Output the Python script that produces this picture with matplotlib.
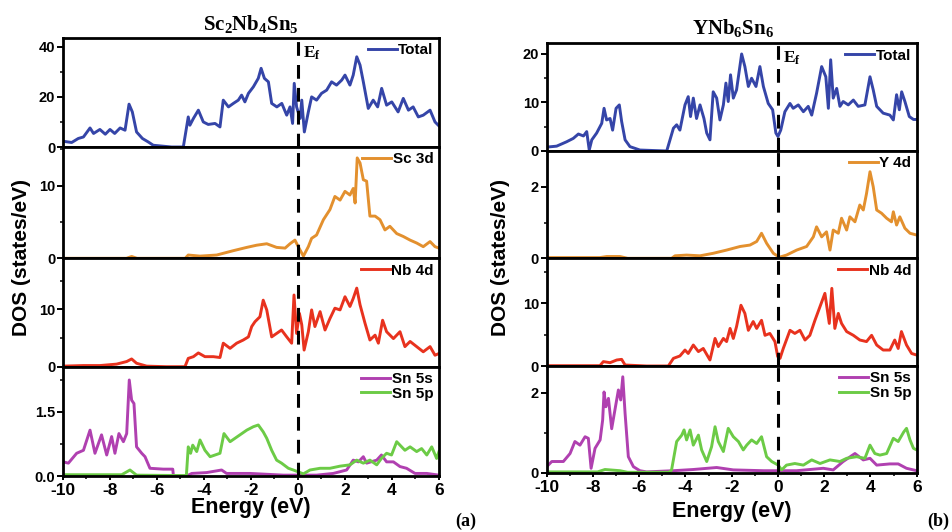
import matplotlib
matplotlib.use("Agg")
import matplotlib.pyplot as plt
from matplotlib.ticker import MultipleLocator, FormatStrFormatter
import matplotlib.transforms as mtrans

plt.rcParams['font.family'] = ['Liberation Sans', 'DejaVu Sans']
plt.rcParams['font.weight'] = 'bold'
plt.rcParams['mathtext.fontset'] = 'custom'
plt.rcParams['mathtext.rm'] = 'Liberation Serif:bold'
plt.rcParams['mathtext.bf'] = 'Liberation Serif:bold'
plt.rcParams['mathtext.default'] = 'rm'

# ---------------- data: (a) Sc2Nb4Sn5 ----------------
a_total_e = [-10, -9.63, -9.35, -9.13, -8.85, -8.7, -8.43, -8.2, -8.0, -7.8, -7.57, -7.36, -7.19, -7.05,
             -6.87, -6.62, -6.37, -6.16, -5.38, -4.88, -4.67, -4.6, -4.45, -4.24, -4.03, -3.82, -3.53,
             -3.32, -3.18, -2.96, -2.75, -2.54, -2.4, -2.26, -2.11, -1.9, -1.69, -1.57, -1.43, -1.26,
             -1.12, -0.9, -0.69, -0.48, -0.34, -0.23, -0.16, -0.06, 0.09, 0.16, 0.27, 0.44, 0.58, 0.79,
             1.0, 1.22, 1.43, 1.64, 1.86, 2.0, 2.21, 2.35, 2.5, 2.64, 2.78, 2.99, 3.2, 3.39, 3.56, 3.77,
             3.99, 4.26, 4.48, 4.7, 4.9, 5.12, 5.33, 5.62, 5.83, 6.0]
a_total_v = [2.3, 1.8, 3.4, 4, 7.6, 5.4, 7, 5.1, 7, 5.4, 7.6, 6.7, 17.1, 14,
             6, 3.4, 2, 0.7, 0, 0, 12, 8.7, 11.4, 14.7, 10, 9, 9.4,
             8, 18.7, 16, 17.4, 18.7, 20.7, 18, 21.4, 24, 27.4, 31.4, 27.4, 26,
             17.4, 16, 17.4, 12.7, 16, 9.4, 25.4, 16, 11.4, 18.7, 6, 14, 20, 18.7,
             21.4, 22.7, 26, 24.7, 26.7, 28.7, 24.7, 28.7, 36, 32.7, 26, 15.4, 18.7, 16, 23.4, 16.7,
             18, 14, 19.4, 14.7, 16, 12, 12.7, 14.7, 10, 8.4]

a_sc_e = [-10, -7.3, -7.08, -6.85, -4.8, -4.67, -4.17, -3.46, -2.75, -2.18, -1.76, -1.33, -0.91, -0.55,
          -0.34, -0.13, 0.01, 0.23, 0.44, 0.58, 0.79, 1.08, 1.36, 1.57, 1.79, 2.0, 2.21, 2.35, 2.43,
          2.52, 2.64, 2.78, 2.92, 3.06, 3.28, 3.49, 3.7, 3.91, 4.2, 4.48, 4.77, 5.05, 5.33, 5.62,
          5.83, 6.0]
a_sc_v = [0, 0, 0.25, 0, 0, 0.45, 0.3, 0.45, 1.05, 1.5, 1.8, 2.0, 1.5, 1.4,
          2.0, 2.5, 1.6, 0.3, 1.6, 2.75, 3.2, 5.3, 6.7, 8.5, 8.0, 9.2, 8.7, 9.6, 7.6,
          13.8, 13.1, 10.8, 10.6, 5.8, 5.8, 5.3, 3.9, 4.4, 3.4, 3.0, 2.5, 2.1, 1.6, 2.3,
          1.6, 1.4]

a_nb_e = [-10, -9.13, -8.43, -7.72, -7.29, -7.08, -6.87, -6.44, -5.6, -4.81, -4.67, -4.45, -4.24,
          -3.96, -3.6, -3.32, -3.18, -2.89, -2.61, -2.33, -2.11, -1.97, -1.83, -1.62, -1.48, -1.33,
          -1.12, -0.91, -0.7, -0.48, -0.27, -0.17, -0.06, 0.06, 0.16, 0.26, 0.44, 0.58, 0.72, 0.94,
          1.15, 1.36, 1.57, 1.79, 2.0, 2.21, 2.35, 2.5, 2.64, 2.85, 3.06, 3.28, 3.42, 3.6, 3.77,
          4.06, 4.34, 4.55, 4.77, 5.05, 5.33, 5.62, 5.83, 6.0]
a_nb_v = [0.1, 0.2, 0.2, 0.45, 0.9, 1.35, 0.6, 0.1, 0, 0, 1.45, 1.75, 2.4,
          1.75, 1.75, 1.6, 4.1, 3.2, 4.1, 4.65, 5.2, 7, 7.85, 8.7, 11.6, 9.9,
          5.2, 5.8, 6.4, 5.2, 4.1, 12.5, 5.8, 9.3, 7.3, 2.9, 6.1, 9.9, 7, 9.6,
          6.4, 8.4, 10.2, 9.9, 12.2, 10.5, 11.9, 13.7, 10.8, 7.6, 4.65, 5.5, 4.1, 8.1, 6.1,
          4.9, 6.1, 3.5, 4.4, 3.5, 2.6, 3.5, 2.0, 2.3]

a_s_e = [-10, -9.77, -9.42, -9.13, -8.85, -8.64, -8.36, -8.14, -7.93, -7.79, -7.62, -7.43, -7.29,
         -7.18, -7.08, -6.98, -6.87, -6.65, -6.51, -6.3, -5.73, -5.33, -5.3, -4.74, -4.52, -3.89,
         -3.25, -3.04, -2.04, -0.62, 0.79, 1.5, 2.07, 2.35, 2.57, 2.78, 2.92, 3.35, 3.55, 3.77,
         4.06, 4.34, 4.62, 4.98, 5.48, 6.0]
a_s_v = [0.33, 0.3, 0.53, 0.6, 1.07, 0.53, 0.96, 0.49, 0.92, 0.53, 0.99, 0.8, 0.99,
         2.24, 1.77, 1.69, 0.68, 0.53, 0.45, 0.18, 0.16, 0.16, 0, 0, 0.06, 0.08,
         0.14, 0.06, 0.06, 0.02, 0.02, 0.06, 0.14, 0.37, 0.33, 0.45, 0.3, 0.37, 0.49, 0.33,
         0.33, 0.22, 0.18, 0.06, 0.06, 0.02]

a_p_e = [-10, -7.5, -7.15, -6.87, -4.75, -4.67, -4.57, -4.48, -4.31, -4.17, -3.96, -3.74, -3.53,
         -3.32, -3.15, -2.89, -2.68, -2.47, -2.18, -1.9, -1.69, -1.48, -1.33, -1.12, -0.91, -0.7,
         -0.41, -0.2, 0.09, 0.23, 0.51, 0.94, 1.36, 1.79, 2.21, 2.5, 2.78, 3.06, 3.35, 3.55, 3.77,
         3.98, 4.2, 4.34, 4.55, 4.77, 5.05, 5.26, 5.48, 5.69, 5.9, 6.0]
a_p_v = [0.03, 0.03, 0.14, 0.02, 0.01, 0.68, 0.53, 0.72, 0.57, 0.84, 0.6, 0.45, 0.49,
         0.53, 0.99, 0.8, 0.88, 0.96, 1.07, 1.15, 1.19, 1.03, 0.88, 0.6, 0.37, 0.3,
         0.18, 0.14, 0.08, 0.05, 0.14, 0.18, 0.18, 0.23, 0.26, 0.37, 0.3, 0.37, 0.26, 0.41, 0.53,
         0.49, 0.8, 0.72, 0.6, 0.68, 0.57, 0.64, 0.49, 0.68, 0.41, 0.57]

# ---------------- data: (b) YNb6Sn6 ----------------
b_total_e = [-10, -9.57, -9.14, -8.85, -8.63, -8.41, -8.27, -8.16, -8.05, -7.84, -7.62, -7.52, -7.41,
             -7.26, -7.15, -7.0, -6.86, -6.76, -6.61, -6.4, -5.97, -4.81, -4.52, -4.38, -4.24, -4.02,
             -3.88, -3.78, -3.66, -3.52, -3.37, -3.2, -3.08, -2.94, -2.8, -2.65, -2.51, -2.36, -2.25,
             -2.15, -2.05, -1.93, -1.79, -1.57, -1.43, -1.28, -1.14, -0.95, -0.78, -0.63, -0.42, -0.23,
             -0.09, 0.0, 0.12, 0.3, 0.52, 0.66, 0.88, 1.1, 1.31, 1.46, 1.67, 1.89, 2.07, 2.18, 2.28,
             2.39, 2.54, 2.68, 2.82, 3.04, 3.26, 3.47, 3.76, 3.98, 4.12, 4.27, 4.55, 4.84, 4.99, 5.13,
             5.25, 5.35, 5.49, 5.68, 5.86, 6.0]
b_total_v = [0.8, 1.0, 1.9, 2.6, 3.5, 3.1, 4.0, 0.2, 2.3, 3.7, 5.7, 8.8, 6.4,
             6.7, 4.3, 8.8, 9.5, 6.1, 2.3, 0.9, 0.2, 0, 4.7, 5.4, 4.3, 9.5,
             11.2, 7.1, 10.9, 6.7, 9.5, 6.7, 3.7, 2.3, 12.2, 10.9, 6.4, 9.5, 14,
             10.2, 15.7, 10.9, 12.6, 20, 17.4, 13.3, 15, 13.3, 17.4, 13.3, 9.8, 8.5,
             3.7, 3.0, 4.3, 8.1, 9.8, 8.8, 9.5, 8.1, 9.2, 7.4, 11.9, 17.4, 15.3, 8.8, 18.8,
             10.9, 12.9, 9.2, 10.2, 9.5, 10.5, 9.2, 9.5, 15.3, 12.6, 9.2, 7.8, 7.4, 6.4, 11.6,
             8.5, 12.2, 10.2, 7.1, 6.5, 6.5]

b_y_e = [-10, -7.7, -7.4, -6.83, -6.5, -4.6, -4.45, -3.95, -3.37, -2.8, -2.22, -1.64, -1.21, -0.92,
         -0.71, -0.49, -0.2, 0.06, 0.37, 0.81, 1.24, 1.53, 1.67, 1.89, 2.1, 2.25, 2.39, 2.61, 2.75,
         2.97, 3.11, 3.33, 3.54, 3.69, 3.83, 3.98, 4.12, 4.27, 4.48, 4.7, 4.91, 4.99, 5.13, 5.27,
         5.49, 5.71, 6.0]
b_y_v = [0.02, 0.02, 0.05, 0.05, 0.0, 0.0, 0.07, 0.09, 0.07, 0.14, 0.23, 0.33, 0.37, 0.47,
         0.7, 0.42, 0.14, 0.03, 0.09, 0.23, 0.33, 0.6, 0.88, 0.6, 0.74, 0.23, 0.79, 0.7, 1.12,
         0.79, 1.16, 1.02, 1.49, 1.35, 1.81, 2.42, 2.0, 1.35, 1.26, 1.12, 1.02, 1.3, 0.93, 1.16,
         0.84, 0.7, 0.65]

b_nb_e = [-10, -7.7, -7.55, -7.26, -6.97, -6.76, -6.61, -5.68, -4.74, -4.52, -4.24, -4.02, -3.88,
          -3.66, -3.44, -3.23, -2.94, -2.72, -2.58, -2.36, -2.22, -2.07, -1.93, -1.79, -1.6, -1.43,
          -1.28, -1.07, -0.92, -0.71, -0.56, -0.35, -0.13, -0.01, 0.09, 0.23, 0.52, 0.73, 0.95, 1.17,
          1.38, 1.6, 1.82, 2.03, 2.22, 2.33, 2.46, 2.61, 2.75, 2.97, 3.26, 3.54, 3.83, 4.05, 4.27,
          4.55, 4.84, 5.05, 5.2, 5.34, 5.56, 5.78, 6.0]
b_nb_v = [0.05, 0.05, 0.7, 0.53, 0.96, 1.06, 0.16, 0, 0, 1.22, 1.6, 2.55, 2.0,
          3.35, 2.3, 2.8, 0.96, 4.4, 3.1, 4.4, 3.9, 6.0, 4.4, 6.3, 9.7, 8.4,
          5.7, 7.1, 6.0, 7.3, 4.9, 5.2, 3.9, 1.5, 1.22, 2.8, 5.7, 5.2, 5.7, 4.15,
          4.9, 7.3, 9.5, 11.6, 6.8, 12.4, 6.0, 8.4, 6.8, 5.5, 4.9, 4.15, 3.9, 4.9, 3.35,
          2.55, 2.55, 4.15, 2.8, 5.5, 3.35, 2.0, 1.75]

b_s_e = [-10, -9.78, -9.28, -8.99, -8.78, -8.56, -8.34, -8.2, -8.08, -7.91, -7.69, -7.58, -7.52,
         -7.44, -7.33, -7.19, -7.05, -6.9, -6.8, -6.71, -6.61, -6.47, -6.25, -5.97, -5.68, -4.52,
         -3.66, -2.65, -1.93, -0.63, 0.81, 1.96, 2.39, 2.82, 3.33, 3.69, 3.98, 4.27, 4.84, 5.2,
         5.56, 6.0]
b_s_v = [0.15, 0.28, 0.28, 0.48, 0.78, 0.69, 0.9, 0.86, 0.11, 0.61, 0.82, 1.32, 2.02,
         1.65, 1.86, 1.1, 1.57, 2.07, 1.82, 2.4, 1.48, 0.4, 0.15, 0.05, 0.02, 0.05,
         0.08, 0.13, 0.07, 0.05, 0.05, 0.11, 0.07, 0.28, 0.48, 0.32, 0.36, 0.19, 0.22, 0.22,
         0.11, 0.05]

b_p_e = [-10, -7.8, -7.48, -6.83, -6.5, -4.7, -4.6, -4.38, -4.16, -4.06, -3.95, -3.8, -3.66, -3.44,
         -3.3, -3.08, -2.87, -2.72, -2.58, -2.36, -2.15, -1.93, -1.71, -1.5, -1.35, -1.14, -0.92,
         -0.71, -0.49, -0.27, 0.01, 0.16, 0.37, 0.73, 1.1, 1.46, 1.82, 2.25, 2.68, 2.97, 3.4, 3.76,
         3.98, 4.19, 4.41, 4.7, 4.99, 5.2, 5.44, 5.56, 5.71, 5.86, 6.0]
b_p_v = [0.02, 0.02, 0.08, 0.05, 0.01, 0.01, 0.07, 0.78, 0.94, 1.07, 0.82, 1.07, 0.69, 0.94,
         0.57, 0.28, 0.65, 1.15, 0.78, 0.53, 1.11, 0.9, 0.78, 0.57, 0.69, 0.82, 0.73,
         0.9, 0.4, 0.28, 0.19, 0.07, 0.19, 0.23, 0.19, 0.32, 0.23, 0.32, 0.28, 0.36, 0.4, 0.36,
         0.69, 0.48, 0.44, 0.48, 0.86, 0.78, 1.02, 1.11, 0.82, 0.61, 0.57]

labels_a = ['Total', 'Sc 3d', 'Nb 4d', 'Sn 5s', 'Sn 5p']
labels_b = ['Total', 'Y 4d', 'Nb 4d', 'Sn 5s', 'Sn 5p']
energy_ticks = [-10, -8, -6, -4, -2, 0, 2, 4, 6]

C_TOT = '#3545A8'
C_ORA = '#E3902E'
C_RED = '#E8321E'
C_MAG = '#B040B0'
C_GRN = '#6CCB46'

W, H = 953, 532
fig = plt.figure(figsize=(W / 100, H / 100), dpi=100)


def make_column(x0, x1, bounds):
    axes = []
    for i in range(4):
        top, bot = bounds[i], bounds[i + 1]
        ax = fig.add_axes([x0 / W, 1 - bot / H, (x1 - x0) / W, (bot - top) / H])
        axes.append(ax)
    return axes


def style(ax, ylim, major, minor, fmt, bottom):
    ax.set_xlim(-10, 6)
    ax.set_ylim(*ylim)
    for s in ax.spines.values():
        s.set_linewidth(2.0)
    ax.yaxis.set_major_locator(MultipleLocator(major))
    ax.yaxis.set_minor_locator(MultipleLocator(minor))
    ax.yaxis.set_major_formatter(FormatStrFormatter(fmt))
    ax.tick_params(axis='y', which='major', direction='out', length=4, width=1.4,
                   labelsize=10.5, pad=1.5, right=False)
    ax.tick_params(axis='y', which='minor', direction='out', length=2.5, width=1.1, right=False)
    ax.xaxis.set_major_locator(MultipleLocator(2))
    ax.xaxis.set_minor_locator(MultipleLocator(1))
    if bottom:
        ax.tick_params(axis='x', which='major', direction='out', length=3, width=1.4,
                       labelsize=12.5, pad=2, top=False)
        ax.tick_params(axis='x', which='minor', direction='out', length=2, width=1.1, top=False)
        ax.set_xticks(energy_ticks)
        ax.set_xticklabels([str(t) for t in energy_ticks])
    else:
        ax.tick_params(axis='x', which='both', bottom=False, top=False, labelbottom=False)
    for lab in ax.get_yticklabels() + ax.get_xticklabels():
        lab.set_fontweight('bold')
    ax.axvline(0, color='k', lw=2.2, ls=(0, (4.5, 3)), zorder=5)


def legend(ax):
    leg = ax.legend(loc='upper right', frameon=False, handlelength=1.9, handletextpad=0.1,
                    borderaxespad=0.15, labelspacing=0.05, borderpad=0.2,
                    prop={'family': 'Liberation Sans', 'weight': 'bold', 'size': 11})
    return leg


LW = 2.1
# ---------- column (a) ----------
axa = make_column(63, 439, [38, 147, 258.3, 366.7, 476])
axa[0].plot(a_total_e, a_total_v, color=C_TOT, lw=LW, label=labels_a[0])
axa[1].plot(a_sc_e, a_sc_v, color=C_ORA, lw=LW, label=labels_a[1])
axa[2].plot(a_nb_e, a_nb_v, color=C_RED, lw=LW, label=labels_a[2])
axa[3].plot(a_s_e, a_s_v, color=C_MAG, lw=LW, label=labels_a[3])
axa[3].plot(a_p_e, a_p_v, color=C_GRN, lw=LW, label=labels_a[4])
style(axa[0], (0, 43.5), 20, 10, '%d', False)
style(axa[1], (0, 15.3), 10, 5, '%d', False)
style(axa[2], (0, 18.9), 10, 5, '%d', False)
style(axa[3], (0, 2.55), 1.5, 0.75, '%.1f', True)
for ax in axa:
    legend(ax)

# ---------- column (b) ----------
axb = make_column(546.7, 916.7, [43.3, 151, 258.3, 366, 472.7])
axb[0].plot(b_total_e, b_total_v, color=C_TOT, lw=LW, label=labels_b[0])
axb[1].plot(b_y_e, b_y_v, color=C_ORA, lw=LW, label=labels_b[1])
axb[2].plot(b_nb_e, b_nb_v, color=C_RED, lw=LW, label=labels_b[2])
axb[3].plot(b_s_e, b_s_v, color=C_MAG, lw=LW, label=labels_b[3])
axb[3].plot(b_p_e, b_p_v, color=C_GRN, lw=LW, label=labels_b[4])
style(axb[0], (0, 22.2), 10, 5, '%d', False)
style(axb[1], (0, 3.0), 2, 1, '%d', False)
style(axb[2], (0, 17.2), 10, 5, '%d', False)
style(axb[3], (0, 2.67), 2, 1, '%d', True)
for ax in axb:
    legend(ax)

# E_f labels
for ax in (axa[0], axb[0]):
    tr = mtrans.blended_transform_factory(ax.transData, ax.transAxes)
    ax.text(0.2, 0.94, r'E$_f$', transform=tr, ha='left', va='top',
            family='Liberation Serif', weight='bold', fontsize=12.5)

# titles
fig.text(251 / W, 1 - 24 / H, r'Sc$_2$Nb$_4$Sn$_5$', ha='center', va='center',
         family='Liberation Serif', weight='bold', fontsize=15)
fig.text(733 / W, 1 - 28 / H, r'YNb$_6$Sn$_6$', ha='center', va='center',
         family='Liberation Serif', weight='bold', fontsize=15)

# axis labels
fig.text(22 / W, 1 - 258 / H, 'DOS (states/eV)', rotation=90, ha='center', va='center',
         weight='bold', fontsize=15)
fig.text(500 / W, 1 - 258 / H, 'DOS (states/eV)', rotation=90, ha='center', va='center',
         weight='bold', fontsize=15)
fig.text(251 / W, 1 - 508 / H, 'Energy (eV)', ha='center', va='center', weight='bold', fontsize=15.5)
fig.text(732 / W, 1 - 511 / H, 'Energy (eV)', ha='center', va='center', weight='bold', fontsize=15.5)

fig.text(466 / W, 1 - 521 / H, '(a)', ha='center', va='center', family='Liberation Serif',
         weight='bold', fontsize=13)
fig.text(938 / W, 1 - 521 / H, '(b)', ha='center', va='center', family='Liberation Serif',
         weight='bold', fontsize=13)

fig.savefig('out.png', dpi=100)
